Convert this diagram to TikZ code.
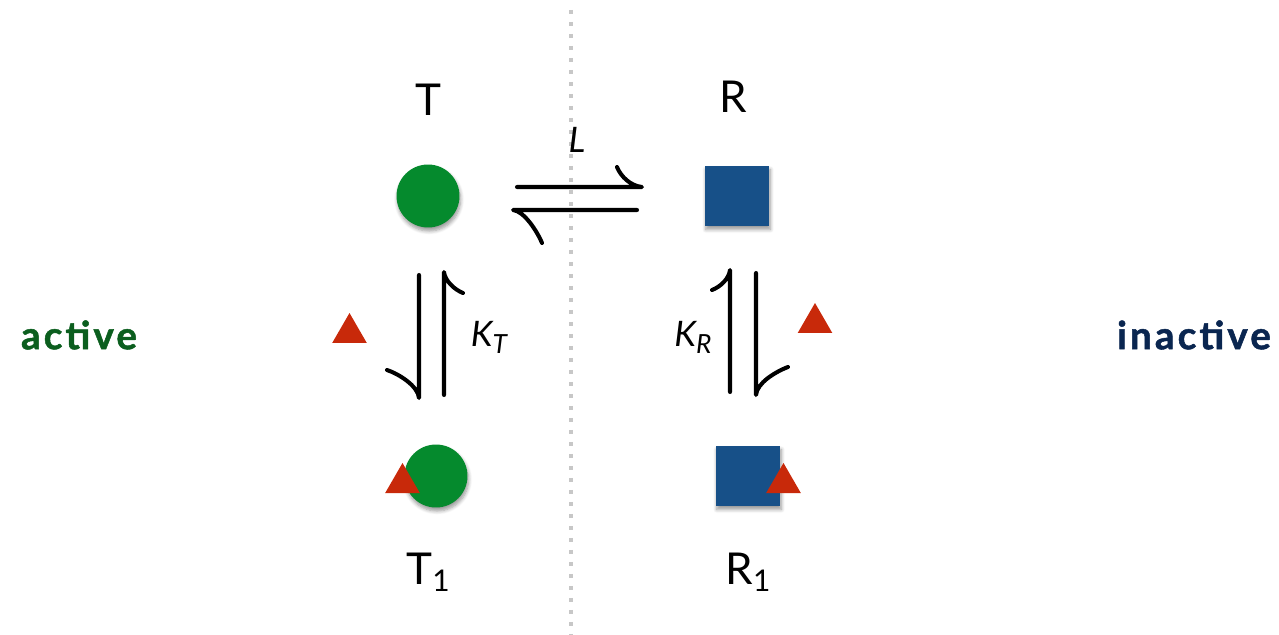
\documentclass[tikz,border=0pt]{standalone}
\usepackage{fontspec}
\setmainfont{Lato}
\newfontfamily\sidefont[LetterSpace=8,FakeBold=1.3]{Lato}
\usetikzlibrary{shapes.geometric,shadows.blur}

\definecolor{tgreen}{RGB}{5,138,45}
\definecolor{rblue}{RGB}{23,80,136}
\definecolor{ligred}{RGB}{200,41,10}
\definecolor{actgreen}{RGB}{11,94,30}
\definecolor{inactblue}{RGB}{10,38,80}

\tikzset{
  soft/.style={blur shadow={shadow xshift=0.6pt,shadow yshift=-2pt,shadow blur steps=6,shadow opacity=40}},
  tstate/.style={circle,fill=tgreen,minimum size=1.26cm,inner sep=0pt,soft},
  rstate/.style={rectangle,fill=rblue,minimum width=1.29cm,minimum height=1.2cm,inner sep=0pt,soft},
  ligand/.style={regular polygon,regular polygon sides=3,fill=ligred,minimum size=0.8cm,inner sep=0pt},
  harp/.style={line width=2.3pt,line cap=round,line join=round},
  lbl/.style={font=\fontsize{25}{30}\selectfont},
  klbl/.style={font=\fontsize{20}{24}\selectfont\itshape},
  side/.style={font=\fontsize{22}{26}\sidefont\bfseries},
}

\begin{document}
\begin{tikzpicture}[x=0.02cm,y=-0.02cm]
\useasboundingbox (0,0) rectangle (1279,635);

% divider between the two sides
\draw[black!22,line width=0.07cm,dash pattern=on 0.08cm off 0.16cm] (571,10) -- (571,635);

% states
\node[tstate] (t) at (428,196) {};
\node[rstate] (r) at (737,196) {};
\node[tstate] (t1) at (436,476) {};
\node[rstate] (r1) at (748,476) {};

% ligands
\node[ligand] (lig1) at (349.5,333) {};
\node[ligand] (lig2) at (815,323) {};
\node[ligand] (lig3) at (402.5,483) {};
\node[ligand] (lig4) at (783.5,483) {};

% labels
\node[lbl] (tl) at (428,100) {T};
\node[lbl] (rl) at (733,97) {R};
\node[lbl] (t1l) at (428,572) {T\raisebox{-0.3ex}{\fontsize{17}{20}\selectfont 1}};
\node[lbl] (r1l) at (748,572) {R\raisebox{-0.3ex}{\fontsize{17}{20}\selectfont 1}};
\node[klbl] (lc) at (577,140) {L};
\node[klbl] (kt) at (489,337) {K\raisebox{-0.4ex}{\fontsize{15}{18}\selectfont T}};
\node[klbl] (kr) at (693,337) {K\raisebox{-0.4ex}{\fontsize{15}{18}\selectfont R}};
\node[side,text=actgreen] (act) at (79,335) {active};
\node[side,text=inactblue] (inact) at (1194,335) {inactive};

% harpoon ends
\coordinate (a1) at (517,187); \coordinate (a2) at (642,187); \coordinate (a3) at (617,167);
\coordinate (b1) at (637,210); \coordinate (b2) at (513,210); \coordinate (b3) at (542,243);
\coordinate (c1) at (419,275); \coordinate (c2) at (419,398); \coordinate (c3) at (387,370);
\coordinate (d1) at (444,395); \coordinate (d2) at (444,272); \coordinate (d3) at (463,293);
\coordinate (e1) at (730,392); \coordinate (e2) at (730,270); \coordinate (e3) at (712,290);
\coordinate (f1) at (756,273); \coordinate (f2) at (756,395); \coordinate (f3) at (788,367);

% T <-> R
\draw[harp] (a1) -- (a2) .. controls +(-11,-1) and +(4,10) .. (a3);
\draw[harp] (b1) -- (b2) .. controls +(11,1) and +(-5,-12) .. (b3);
% T <-> T1
\draw[harp] (c1) -- (c2) .. controls +(-1,-12) and +(12,4) .. (c3);
\draw[harp] (d1) -- (d2) .. controls +(1,9) and +(-8,-3) .. (d3);
% R <-> R1
\draw[harp] (e1) -- (e2) .. controls +(-1,9) and +(8,-3) .. (e3);
\draw[harp] (f1) -- (f2) .. controls +(1,-12) and +(-13,5) .. (f3);
\end{tikzpicture}
\end{document}
